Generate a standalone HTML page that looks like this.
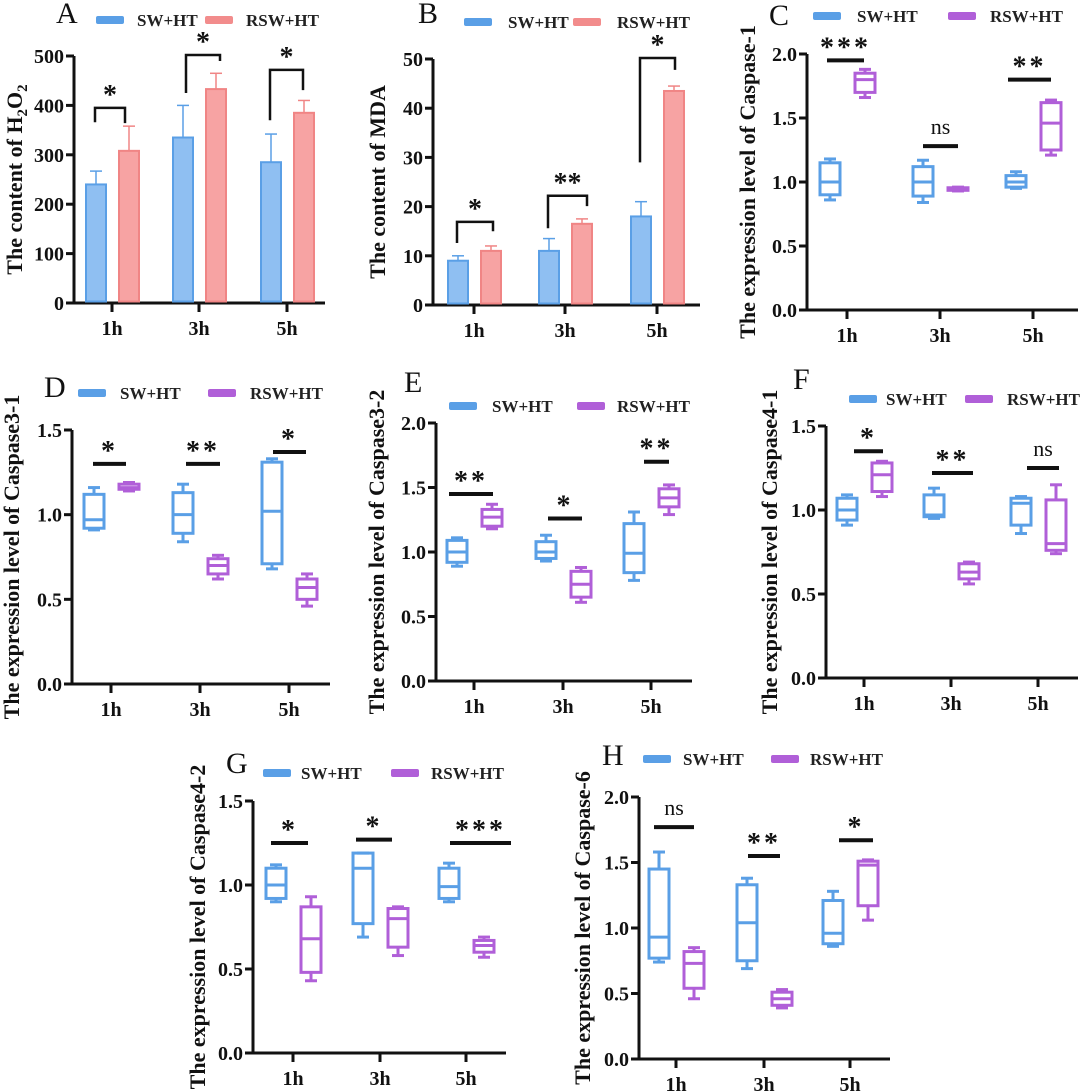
<!DOCTYPE html>
<html><head><meta charset="utf-8">
<style>
html,body{margin:0;padding:0;background:#fff}
svg{display:block}
text{font-family:"Liberation Serif",serif}
</style></head>
<body>
<svg id="fig" width="1080" height="1092" viewBox="0 0 1080 1092" xmlns="http://www.w3.org/2000/svg"></svg>
<script>
const categories = ["1h","3h","5h"];
const seriesNames = ["SW+HT","RSW+HT"];
// Bar panels: values and error tops
const aSW = [240,335,285];
const aSWerr = [267,400,342];
const aRSW = [308,433,385];
const aRSWerr = [358,465,410];
const aTicks = [0,100,200,300,400,500];
const bSW = [9,11,18];
const bSWerr = [10,13.5,21];
const bRSW = [11,16.5,43.5];
const bRSWerr = [12,17.5,44.5];
const bTicks = [0,10,20,30,40,50];
// Box panels: [min,q1,median,q3,max] per category
const cSW = [[.86,.9,1.0,1.15,1.18],[.84,.89,1.0,1.12,1.17],[.95,.96,1.0,1.05,1.08]];
const cRSW = [[1.66,1.7,1.8,1.85,1.88],[.93,.935,.945,.955,.96],[1.21,1.25,1.46,1.62,1.64]];
const dSW = [[.91,.92,.97,1.12,1.16],[.84,.89,1.0,1.13,1.18],[.68,.71,1.02,1.31,1.33]];
const dRSW = [[1.14,1.15,1.16,1.18,1.19],[.62,.65,.7,.74,.76],[.46,.5,.57,.62,.65]];
const eSW = [[.89,.92,1.0,1.09,1.11],[.93,.95,1.0,1.08,1.13],[.78,.84,.99,1.22,1.31]];
const eRSW = [[1.18,1.2,1.27,1.33,1.37],[.61,.65,.75,.85,.88],[1.29,1.35,1.42,1.49,1.52]];
const fSW = [[.91,.94,1.0,1.07,1.09],[.95,.96,.97,1.09,1.13],[.86,.91,1.04,1.07,1.08]];
const fRSW = [[1.08,1.11,1.21,1.28,1.29],[.56,.59,.63,.68,.69],[.74,.76,.8,1.06,1.15]];
const gSW = [[.9,.92,1.0,1.1,1.12],[.69,.77,1.1,1.19,1.19],[.9,.92,.99,1.1,1.13]];
const gRSW = [[.43,.48,.68,.87,.93],[.58,.63,.8,.86,.87],[.57,.6,.64,.67,.69]];
const hSW = [[.74,.77,.93,1.45,1.58],[.69,.75,1.04,1.33,1.38],[.86,.88,.96,1.21,1.28]];
const hRSW = [[.46,.54,.73,.82,.85],[.39,.41,.46,.51,.53],[1.06,1.17,1.48,1.51,1.52]];
const ticks15 = [0,0.5,1.0,1.5];
const ticks20 = [0,0.5,1.0,1.5,2.0];
// significance labels
const aSig = ["*","*","*"], bSig = ["*","**","*"], cSig = ["***","ns","**"], dSig = ["*","**","*"];
const eSig = ["**","*","**"], fSig = ["*","**","ns"], gSig = ["*","*","***"], hSig = ["ns","**","*"];
const aBr = [[395,366,364],[502,425,490],[472,370,431]];
const bBr = [[16.9,12.6,15],[22.2,15.6,20.1],[50.2,29,47.8]];
const cLine = [1.95,1.28,1.8], dLine=[1.3,1.3,1.37], eLine=[1.45,1.26,1.7], fLine=[1.35,1.22,1.25];
const gLine = [1.25,1.27,1.25], hLine=[1.77,1.55,1.67];

const svg = document.getElementById('fig');
const NS = 'http://www.w3.org/2000/svg';
function el(tag, attrs, parent){const e=document.createElementNS(NS,tag);for(const k in attrs)e.setAttribute(k,attrs[k]);(parent||svg).appendChild(e);return e;}
function txt(s, attrs, parent){const e=el('text',attrs,parent);e.textContent=s;return e;}
const BLUE='#5a9fe6', PURPLE='#b05fd8', RED='#f28c8c';

function panel(p){
  const g=el('g',{});
  
  
  const y=v=>p.y0-(v-p.ticks[0])/(p.ticks[p.ticks.length-1]-p.ticks[0])*(p.y0-p.yTop);
  const x=i=>p.tx[i];
  const L=txt(p.id,{x:p.leg[0],y:p.leg[1],'font-size':30,fill:'#111'},g);
  
  
  const c2=p.bar?RED:PURPLE;
  const lg=el('g',{},g);
  
  
  const s1=el('rect',{x:p.leg[2],y:p.leg[6]-4,width:28,height:8,rx:2,fill:BLUE},lg);
  
  
  const t1=txt(seriesNames[0],{x:p.leg[3],y:p.leg[6]+6,'font-size':17,'font-weight':'bold',fill:'#222'},lg);
  
  
  const s2=el('rect',{x:p.leg[4],y:p.leg[6]-4,width:28,height:8,rx:2,fill:c2},lg);
  
  
  const t2=txt(seriesNames[1],{x:p.leg[5],y:p.leg[6]+6,'font-size':17,'font-weight':'bold',fill:'#222'},lg);
  
  
  const cy=(p.y0+p.yTop)/2;
  const yl=txt(p.ylabel,{x:0,y:0,'font-size':22,'font-weight':'bold','text-anchor':'middle',fill:'#111',transform:`translate(${p.ylx},${cy}) rotate(-90)`},g);
  
  
  if(p.sub){ yl.textContent=''; const a=document.createElementNS(NS,'tspan');a.textContent='The content of H';yl.appendChild(a);
    const b=document.createElementNS(NS,'tspan');b.textContent='2';b.setAttribute('font-size',15);b.setAttribute('dy',5);yl.appendChild(b);
    const c=document.createElementNS(NS,'tspan');c.textContent='O';c.setAttribute('dy',-5);yl.appendChild(c);
    const d=document.createElementNS(NS,'tspan');d.textContent='2';d.setAttribute('font-size',15);d.setAttribute('dy',5);yl.appendChild(d);}
  const ax=el('path',{d:`M${p.ax},${p.yTop} L${p.ax},${p.y0} L${p.xr},${p.y0}`,stroke:'#111','stroke-width':3,fill:'none'},g);
  
  
  p.ticks.forEach(t=>{
    el('line',{x1:p.ax-8,x2:p.ax,y1:y(t),y2:y(t),stroke:'#111','stroke-width':3},g);
    const tl=txt(p.fmt(t),{x:p.ax-10,y:y(t)+7,'font-size':20,'font-weight':'bold','text-anchor':'end',fill:'#111'},g);
    
    
  });
  categories.forEach((c,i)=>{
    el('line',{x1:x(i),x2:x(i),y1:p.y0,y2:p.y0+9,stroke:'#111','stroke-width':3},g);
    const tl=txt(c,{x:x(i),y:p.y0+32,'font-size':20,'font-weight':'bold','text-anchor':'middle',fill:'#111'},g);
    
    
  });
  if(p.bar){
    [[p.s1,p.e1,'#8fbff2',BLUE,-16],[p.s2,p.e2,'#f7a3a3','#f08585',17]].forEach(([vals,errs,fill,st,off],si)=>{
      vals.forEach((v,i)=>{
        const cx=x(i)+off;
        el('line',{x1:cx,x2:cx,y1:y(v),y2:y(errs[i]),stroke:st,'stroke-width':1.5},g);
        el('line',{x1:cx-6,x2:cx+6,y1:y(errs[i]),y2:y(errs[i]),stroke:st,'stroke-width':1.5},g);
        const r=el('rect',{x:cx-10,y:y(v),width:20,height:p.y0-y(v)-1.5,fill:fill,stroke:st,'stroke-width':2},g);
        
        
      });
    });
    p.br.forEach((b,i)=>{
      const x1=x(i)+p.brx[i][0], x2=x(i)+p.brx[i][1];
      const br=el('path',{d:`M${x1},${y(b[1])} L${x1},${y(b[0])} L${x2},${y(b[0])} L${x2},${y(b[2])}`,stroke:'#111','stroke-width':2.5,fill:'none'},g);
      
      
      const s=txt(p.sig[i],{x:(x1+x2)/2,y:y(b[0])-4,'font-size':28,'font-weight':'bold','text-anchor':'middle','font-family':'Liberation Sans, sans-serif',fill:'#111'},g);
      
      
    });
  } else {
    [[p.s1,BLUE,-17],[p.s2,PURPLE,18]].forEach(([d,col,off],si)=>{
      d.forEach((b,i)=>{
        const cx=x(i)+off, w=10, cw=6;
        const bg=el('g',{fill:'none',stroke:col,'stroke-width':3},g);
        
        
        el('line',{x1:cx,x2:cx,y1:y(b[0]),y2:y(b[1])},bg);
        el('line',{x1:cx,x2:cx,y1:y(b[3]),y2:y(b[4])},bg);
        el('line',{x1:cx-cw,x2:cx+cw,y1:y(b[0]),y2:y(b[0])},bg);
        el('line',{x1:cx-cw,x2:cx+cw,y1:y(b[4]),y2:y(b[4])},bg);
        el('rect',{x:cx-w,y:y(b[3]),width:2*w,height:Math.max(1,y(b[1])-y(b[3]))},bg);
        el('line',{x1:cx-w,x2:cx+w,y1:y(b[2]),y2:y(b[2])},bg);
      });
    });
    p.line.forEach((v,i)=>{
      const x1=x(i)+p.lx[i][0], x2=x(i)+p.lx[i][1];
      const ln=el('line',{x1:x1,x2:x2,y1:y(v),y2:y(v),stroke:'#111','stroke-width':4},g);
      
      
      const ns=p.sig[i]==='ns';
      const s=txt(p.sig[i],{x:(x1+x2)/2,y:y(v)-(ns?12:4),'font-size':ns?22:28,'font-weight':ns?'normal':'bold','text-anchor':'middle','font-family':'Liberation Sans, sans-serif','letter-spacing':ns?0:3,fill:'#111'},g);
      
      
    });
  }
}
const f0=t=>String(t), f1=t=>t.toFixed(1);
panel({id:'A',bar:true,sub:true,ylabel:'The content of H2O2',ylx:22,ax:74,y0:303,yTop:56,xr:325,tx:[112,199,287],ticks:aTicks,fmt:f0,
  s1:aSW,e1:aSWerr,s2:aRSW,e2:aRSWerr,br:aBr,brx:[[-17,13],[-13,21],[-17,16]],sig:aSig,leg:[56,23,96,137,205,246,20]});
panel({id:'B',bar:true,ylabel:'The content of MDA',ylx:385,ax:433,y0:305,yTop:59,xr:700,tx:[474,565,657],ticks:bTicks,fmt:f0,
  s1:bSW,e1:bSWerr,s2:bRSW,e2:bRSWerr,br:bBr,brx:[[-17,19],[-17,22],[-17,18]],sig:bSig,leg:[418,23,464,508,573,617,22]});
panel({id:'C',ylabel:'The expression level of Caspase-1',ylx:755,ax:807,y0:310,yTop:54,xr:1078,tx:[847,940,1033],ticks:ticks20,fmt:f1,
  s1:cSW,s2:cRSW,line:cLine,lx:[[-20,17],[-17,18],[-25,18]],sig:cSig,leg:[769,25,813,857,948,990,16]});
panel({id:'D',ylabel:'The expression level of Caspase3-1',ylx:19,ax:72,y0:684,yTop:430,xr:330,tx:[111,200,289],ticks:ticks15,fmt:f1,
  s1:dSW,s2:dRSW,line:dLine,lx:[[-18,15],[-14,20],[-16,17]],sig:dSig,leg:[44,397,78,120,208,250,393]});
panel({id:'E',ylabel:'The expression level of Caspase3-2',ylx:384,ax:436,y0:681,yTop:423,xr:692,tx:[474,563,651],ticks:ticks20,fmt:f1,
  s1:eSW,s2:eRSW,line:eLine,lx:[[-25,19],[-15,19],[-7,18]],sig:eSig,leg:[404,392,449,492,577,617,406]});
panel({id:'F',ylabel:'The expression level of Caspase4-1',ylx:777,ax:826,y0:678,yTop:426,xr:1078,tx:[864,951,1038],ticks:ticks15,fmt:f1,
  s1:fSW,s2:fRSW,line:fLine,lx:[[-10,19],[-19,22],[-11,21]],sig:fSig,leg:[793,389,849,886,965,1007,399]});
panel({id:'G',ylabel:'The expression level of Caspase4-2',ylx:205,ax:253,y0:1053,yTop:801,xr:506,tx:[293,380,466],ticks:ticks15,fmt:f1,
  s1:gSW,s2:gRSW,line:gLine,lx:[[-22,15],[-24,12],[-16,45]],sig:gSig,leg:[226,773,263,301,391,431,773]});
panel({id:'H',ylabel:'The expression level of Caspase-6',ylx:590,ax:639,y0:1059,yTop:797,xr:890,tx:[676,764,850],ticks:ticks20,fmt:f1,
  s1:hSW,s2:hRSW,line:hLine,lx:[[-22,18],[-16,16],[-11,23]],sig:hSig,leg:[602,765,643,683,771,810,759]});
</script>
</body></html>
